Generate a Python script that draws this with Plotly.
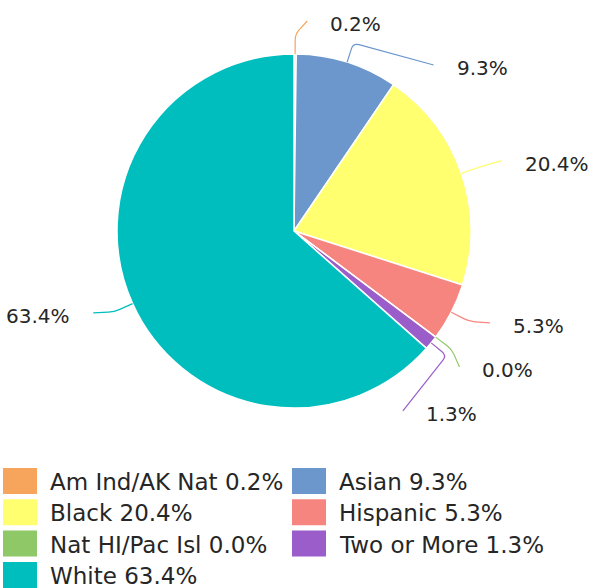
import math

import plotly.graph_objects as go

grupos = [
    "Am Ind/AK Nat",
    "Asian",
    "Black",
    "Hispanic",
    "Nat HI/Pac Isl",
    "Two or More",
    "White",
]
percentuais = [0.2, 9.3, 20.4, 5.3, 0.0, 1.3, 63.4]
cores = [
    "#F7A45C",
    "#6B97CD",
    "#FFFF70",
    "#F7857F",
    "#8FC867",
    "#9A5DC9",
    "#00BEBE",
]

W, H = 590, 588
CX, CY, R = 294, 231, 177
DIST = 30          # distancia do rotulo ate a borda
QUEBRA = 20        # ponto de quebra do conector
ESPACO = 44        # espaco minimo entre rotulos
FONTE = "DejaVu Sans"
COR_TEXTO = "#262626"


def px(x, y):
    return x / W, 1 - y / H


fig = go.Figure(
    go.Pie(
        labels=grupos,
        values=percentuais,
        marker=dict(colors=cores, line=dict(color="white", width=1.5)),
        sort=False,
        direction="clockwise",
        rotation=0,
        textinfo="none",
        hoverinfo="label+percent",
        domain=dict(
            x=[(CX - R) / W, (CX + R) / W],
            y=[1 - (CY + R) / H, 1 - (CY - R) / H],
        ),
        showlegend=False,
    )
)

# angulos medios de cada fatia (sentido horario a partir do topo)
total = sum(percentuais)
angulos = []
acumulado = 0
for v in percentuais:
    angulos.append((acumulado + v / 2) / total * 2 * math.pi)
    acumulado += v

# posicao vertical dos rotulos, evitando sobreposicao em cada lado
raio_rotulo = R + DIST
pos_y = [CY - raio_rotulo * math.cos(a) for a in angulos]
for lado in (1, -1):
    idx = [i for i, a in enumerate(angulos) if (math.sin(a) >= 0) == (lado == 1)]
    idx.sort(key=lambda i: pos_y[i])
    for anterior, atual in zip(idx, idx[1:]):
        if pos_y[atual] - pos_y[anterior] < ESPACO:
            pos_y[atual] = pos_y[anterior] + ESPACO

shapes = []
annotations = []
for i, (a, v) in enumerate(zip(angulos, percentuais)):
    lado = 1 if math.sin(a) >= 0 else -1
    y = pos_y[i]
    dx = math.sqrt(max(raio_rotulo ** 2 - (y - CY) ** 2, 0))
    x_texto = CX + lado * (dx + 33)
    x_fim = CX + lado * (dx + 12)

    p0 = (CX + R * math.sin(a), CY - R * math.cos(a))
    p1 = (CX + (R + QUEBRA) * math.sin(a), CY - (R + QUEBRA) * math.cos(a))
    p2 = (x_fim, y - 3)

    def recuo(origem, destino, d=6):
        comp = math.hypot(destino[0] - origem[0], destino[1] - origem[1]) or 1
        d = min(d, comp / 2)
        return (
            origem[0] + (destino[0] - origem[0]) * d / comp,
            origem[1] + (destino[1] - origem[1]) * d / comp,
        )

    pa = recuo(p1, p0)
    pb = recuo(p1, p2)
    pts = [px(*p) for p in (p0, pa, p1, pb, p2)]
    caminho = (
        f"M {pts[0][0]},{pts[0][1]} L {pts[1][0]},{pts[1][1]} "
        f"Q {pts[2][0]},{pts[2][1]} {pts[3][0]},{pts[3][1]} "
        f"L {pts[4][0]},{pts[4][1]}"
    )
    shapes.append(
        dict(
            type="path",
            xref="paper",
            yref="paper",
            path=caminho,
            line=dict(color=cores[i], width=1.2),
        )
    )

    ax, ay = px(x_texto, y)
    annotations.append(
        dict(
            x=ax,
            y=ay,
            xref="paper",
            yref="paper",
            text=f"{v:.1f}%",
            showarrow=False,
            xanchor="left" if lado == 1 else "right",
            yanchor="middle",
            font=dict(family=FONTE, size=20, color=COR_TEXTO),
        )
    )

# legenda em duas colunas
LEG_TOPO = 468
LEG_PASSO = 31.3
LEG_COLUNAS = [3, 292]
LEG_QUADRADO = (34, 26)
for i, (nome, v) in enumerate(zip(grupos, percentuais)):
    linha, coluna = divmod(i, 2)
    x0 = LEG_COLUNAS[coluna]
    y0 = LEG_TOPO + linha * LEG_PASSO
    qx0, qy0 = px(x0, y0)
    qx1, qy1 = px(x0 + LEG_QUADRADO[0], y0 + LEG_QUADRADO[1])
    shapes.append(
        dict(
            type="rect",
            xref="paper",
            yref="paper",
            x0=qx0,
            y0=qy1,
            x1=qx1,
            y1=qy0,
            fillcolor=cores[i],
            line=dict(width=0),
        )
    )
    tx, ty = px(x0 + LEG_QUADRADO[0] + 11, y0 + LEG_QUADRADO[1] / 2 + 1)
    annotations.append(
        dict(
            x=tx,
            y=ty,
            xref="paper",
            yref="paper",
            text=f"{nome} {v:.1f}%",
            showarrow=False,
            xanchor="left",
            yanchor="middle",
            font=dict(family=FONTE, size=23, color=COR_TEXTO),
        )
    )

fig.update_layout(
    width=W,
    height=H,
    autosize=False,
    margin=dict(l=0, r=0, t=0, b=0),
    paper_bgcolor="white",
    plot_bgcolor="white",
    shapes=shapes,
    annotations=annotations,
)

fig.write_html(
    "out.html",
    config={"displayModeBar": False},
    post_script="document.body.style.margin='0';document.body.style.overflow='hidden';",
)
